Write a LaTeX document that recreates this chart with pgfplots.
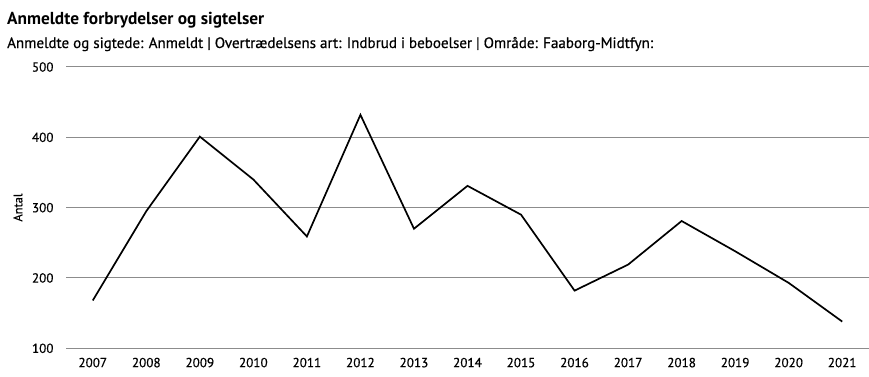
\documentclass[border=0pt]{standalone}
\usepackage{pgfplots}
\pgfplotsset{compat=1.18}
\usepackage{fontspec}
\setmainfont{PT Sans}
\newfontfamily\medfont[FakeBold=0.6]{PT Sans}
\begin{document}
\begin{tikzpicture}[x=1bp,y=1bp]
\useasboundingbox (0,0) rectangle (869,376);
\node[anchor=base west, font=\fontsize{17.4}{20}\selectfont\bfseries, inner sep=0pt] at (7,352) {Anmeldte forbrydelser og sigtelser};
\node[anchor=base west, font=\fontsize{15.1}{17}\selectfont\medfont, inner sep=0pt] at (7,328) {Anmeldte og sigtede: Anmeldt | Overtrædelsens art: Indbrud i beboelser | Område: Faaborg-Midtfyn:};
\node[rotate=90, font=\fontsize{12.5}{14}\selectfont\medfont, inner sep=0pt] at (18,168.5) {Antal};
\begin{axis}[
  at={(66bp,27.7bp)}, anchor=south west,
  scale only axis, width=803bp, height=281.3bp,
  xmin=2006.5, xmax=2021.5, ymin=100, ymax=500,
  xtick={2007,...,2021}, ytick={100,200,300,400,500},
  x tick label style={/pgf/number format/1000 sep={}},
  /pgf/number format/assume math mode=true,
  tick label style={font=\fontsize{13.2}{15}\selectfont\medfont},
  major tick length=0pt,
  axis line style={draw=none},
  ymajorgrids, grid style={draw=black!45, line width=1pt},
  yticklabel style={xshift=-9bp},
  xticklabel style={yshift=-6bp},
  clip=false,
]
\addplot[black, line width=1.7pt, mark=none] coordinates {
(2007,168) (2008,295) (2009,401) (2010,340) (2011,259) (2012,432) (2013,270)
(2014,331) (2015,290) (2016,182) (2017,219) (2018,281) (2019,238) (2020,193) (2021,138)
};
\end{axis}
\end{tikzpicture}
\end{document}
